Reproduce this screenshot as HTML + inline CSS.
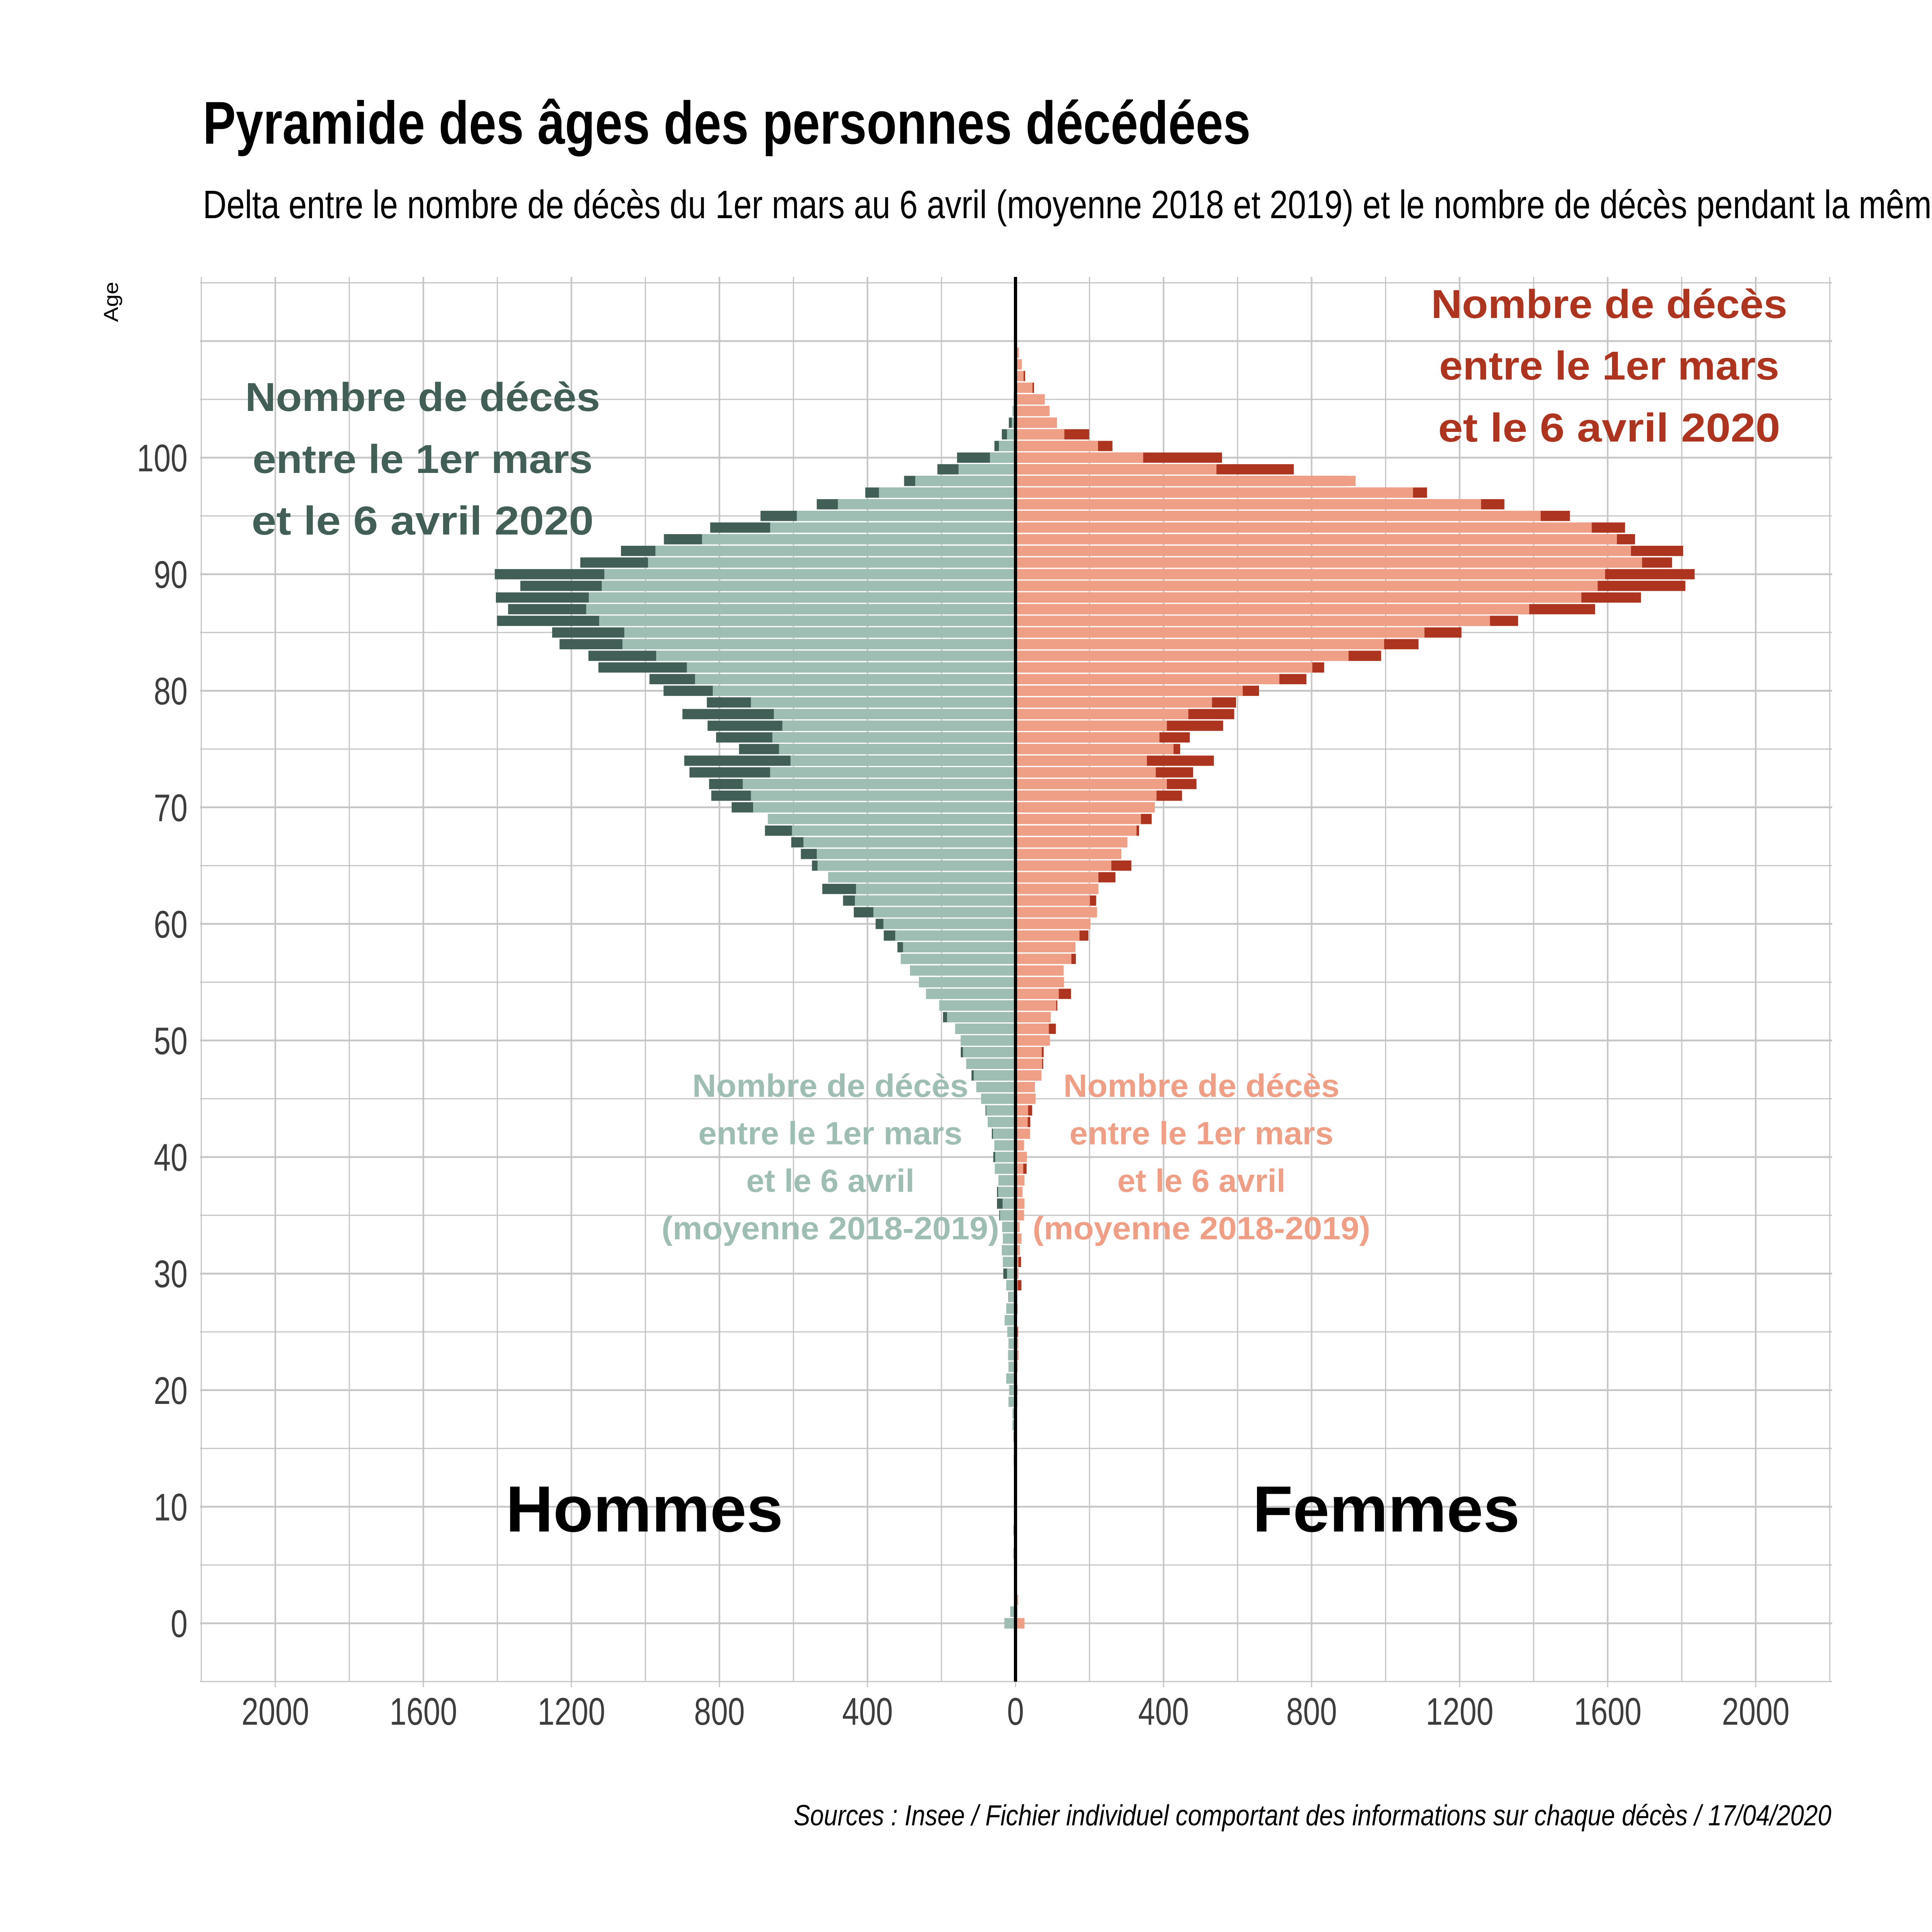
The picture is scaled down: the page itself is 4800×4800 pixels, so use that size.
<!DOCTYPE html>
<html><head><meta charset="utf-8">
<style>
html,body{margin:0;padding:0;background:#fff;}
svg{display:block;}
.cond{font-family:"Liberation Sans Narrow","Liberation Sans",sans-serif;}
.ann{font-family:"Liberation Sans",sans-serif;font-weight:bold;}
</style></head>
<body>
<svg id="chart" xmlns="http://www.w3.org/2000/svg" width="4800" height="4800" viewBox="0 0 4800 4800">
<rect x="0" y="0" width="4800" height="4800" fill="#ffffff"/>
<g id="grid"></g>
<g id="bars"></g>
<line x1="2523" y1="688" x2="2523" y2="4178" stroke="#000" stroke-width="8"/>
<g id="ticks"></g>
<text class="cond" x="504" y="357" font-size="150" font-weight="bold" textLength="2603" lengthAdjust="spacingAndGlyphs" fill="#000">Pyramide des âges des personnes décédées</text>
<text class="cond" x="504" y="542" font-size="98" textLength="4952" lengthAdjust="spacingAndGlyphs" fill="#000">Delta entre le nombre de décès du 1er mars au 6 avril (moyenne 2018 et 2019) et le nombre de décès pendant la même période en 2020</text>
<text class="cond" x="0" y="0" font-size="50" textLength="100" lengthAdjust="spacingAndGlyphs" fill="#000" transform="translate(293,800) rotate(-90)">Age</text>
<g class="ann" fill="#415f56" text-anchor="middle" font-size="100">
<text x="1050" y="1021" textLength="882" lengthAdjust="spacingAndGlyphs">Nombre de décès</text>
<text x="1050" y="1175" textLength="845" lengthAdjust="spacingAndGlyphs">entre le 1er mars</text>
<text x="1050" y="1328" textLength="850" lengthAdjust="spacingAndGlyphs">et le 6 avril 2020</text>
</g>
<g class="ann" fill="#ad3520" text-anchor="middle" font-size="100">
<text x="3998" y="790" textLength="885" lengthAdjust="spacingAndGlyphs">Nombre de décès</text>
<text x="3998" y="943" textLength="845" lengthAdjust="spacingAndGlyphs">entre le 1er mars</text>
<text x="3998" y="1097" textLength="850" lengthAdjust="spacingAndGlyphs">et le 6 avril 2020</text>
</g>
<g class="ann" fill="#9ebdb3" text-anchor="middle" font-size="80">
<text x="2063" y="2725" textLength="686" lengthAdjust="spacingAndGlyphs">Nombre de décès</text>
<text x="2063" y="2843" textLength="656" lengthAdjust="spacingAndGlyphs">entre le 1er mars</text>
<text x="2063" y="2961" textLength="418" lengthAdjust="spacingAndGlyphs">et le 6 avril</text>
<text x="2063" y="3079" textLength="839" lengthAdjust="spacingAndGlyphs">(moyenne 2018-2019)</text>
</g>
<g class="ann" fill="#f09f87" text-anchor="middle" font-size="80">
<text x="2985" y="2725" textLength="686" lengthAdjust="spacingAndGlyphs">Nombre de décès</text>
<text x="2985" y="2843" textLength="656" lengthAdjust="spacingAndGlyphs">entre le 1er mars</text>
<text x="2985" y="2961" textLength="418" lengthAdjust="spacingAndGlyphs">et le 6 avril</text>
<text x="2985" y="3079" textLength="839" lengthAdjust="spacingAndGlyphs">(moyenne 2018-2019)</text>
</g>
<text class="ann" x="1601" y="3805" font-size="162" text-anchor="middle" textLength="689" lengthAdjust="spacingAndGlyphs" fill="#000">Hommes</text>
<text class="ann" x="3444" y="3805" font-size="162" text-anchor="middle" textLength="664" lengthAdjust="spacingAndGlyphs" fill="#000">Femmes</text>
<text class="cond" x="4550" y="4535" font-size="72" font-style="italic" text-anchor="end" textLength="2578" lengthAdjust="spacingAndGlyphs" fill="#000">Sources : Insee / Fichier individuel comportant des informations sur chaque décès / 17/04/2020</text>
</svg>
<script>
// Ages 0..109
const menAvg = [30,14,1,1,1,3,2,1,2,1,1,2,2,2,5,3,3,8,8,19,17,25,19,20,19,22,29,25,18,25,23,34,37,34,36,42,35,47,46,56,55,57,61,75,79,93,106,113,133,142,148,163,185,206,242,261,285,310,304,325,357,384,434,431,506,535,537,573,604,669,709,715,737,663,608,639,657,630,653,715,818,866,888,971,1062,1057,1125,1160,1153,1118,1111,993,973,847,663,591,480,369,271,154,69,45,23,10,8,5,1,1,0,0];
const men2020 = [30,14,1,1,1,3,5,1,5,1,1,2,2,2,5,3,5,8,8,19,17,25,19,20,19,22,29,25,19,25,33,34,37,34,36,44,50,50,46,56,60,57,64,75,81,93,106,119,133,148,148,163,196,206,242,261,285,310,319,356,378,437,466,522,506,550,580,606,677,669,767,822,828,881,895,747,809,832,900,834,951,989,1127,1154,1232,1252,1401,1371,1404,1338,1407,1176,1066,950,825,689,537,406,301,211,158,57,37,18,8,5,3,2,1,0];
const womenAvg = [24,5,7,0,0,0,0,0,1,0,0,0,1,1,1,1,2,3,3,5,4,4,6,8,7,5,3,6,5,6,8,8,12,16,11,23,24,19,24,21,31,23,39,33,34,54,52,70,72,71,93,90,95,110,117,131,130,151,162,173,202,220,201,224,224,259,286,302,327,339,376,381,409,379,355,427,389,409,467,531,614,713,802,900,996,1105,1282,1388,1529,1573,1593,1693,1663,1625,1557,1419,1258,1074,919,543,345,223,132,112,92,79,46,22,17,9];
const women2020 = [24,5,7,0,0,0,0,0,1,0,0,0,1,1,1,1,2,3,3,5,5,4,6,8,7,7,3,6,5,16,8,15,12,16,11,23,24,19,24,30,31,23,39,40,45,54,52,70,75,76,93,109,95,113,150,131,130,163,162,197,202,220,218,224,270,313,286,302,334,368,376,450,489,480,536,445,471,561,591,596,658,786,834,988,1089,1205,1358,1566,1690,1810,1835,1774,1804,1674,1647,1498,1321,1112,900,752,558,262,199,112,92,79,50,26,17,9];
const xTickValues = [2000,1600,1200,800,400,0,400,800,1200,1600,2000];
const xTickSigns = [-1,-1,-1,-1,-1,0,1,1,1,1,1];
const yTickLabels = [0,10,20,30,40,50,60,70,80,90,100];

const NS = "http://www.w3.org/2000/svg";
const X0 = 2523, XS = 0.9195, Y0 = 4033, YS = 28.96;
const PL = 497, PR = 4552, PT = 688, PB = 4178;
function xPos(v){ return X0 + v*XS; }
function yPos(a){ return Y0 - a*YS; }
function mk(tag, attrs){ const e = document.createElementNS(NS, tag); for (const k in attrs) e.setAttribute(k, attrs[k]); return e; }

const grid = document.getElementById('grid');
for (let v = -2200; v <= 2200; v += 200) {
  const gl = mk('line', {x1: xPos(v), x2: xPos(v), y1: PT, y2: PB, stroke: '#c6c6c6', 'stroke-width': (v % 400 === 0) ? 4 : 3});
  
  
  grid.appendChild(gl);
}
for (let a = -5; a <= 115; a += 5) {
  const gl = mk('line', {x1: PL, x2: PR, y1: yPos(a), y2: yPos(a), stroke: '#c6c6c6', 'stroke-width': (a % 10 === 0) ? 4.5 : 3});
  
  
  grid.appendChild(gl);
}

const bars = document.getElementById('bars');
const BH = 25.5;
function bar(v0, v1, age, color, name){
  const xa = Math.min(xPos(v0), xPos(v1)), xb = Math.max(xPos(v0), xPos(v1));
  const r = mk('rect', {x: xa, y: yPos(age) - BH/2, width: Math.max(0, xb - xa), height: BH, fill: color});
  
  
  bars.appendChild(r);
}
for (let i = 0; i < menAvg.length; i++) {
  bar(0, -men2020[i], i, '#415f56', 'bar-men-2020');
  bar(0, -menAvg[i], i, '#9ebdb3', 'bar-men-average');
  bar(0, women2020[i], i, '#ad3520', 'bar-women-2020');
  bar(0, womenAvg[i], i, '#f09f87', 'bar-women-average');
}

const ticks = document.getElementById('ticks');
for (let i = 0; i < xTickValues.length; i++) {
  const v = xTickValues[i] * xTickSigns[i];
  const tm = mk('line', {x1: xPos(v), x2: xPos(v), y1: PB, y2: PB + 14, stroke: '#c6c6c6', 'stroke-width': 3});
  
  
  ticks.appendChild(tm);
  const s = String(xTickValues[i]);
  const t = mk('text', {x: xPos(v), y: 4285, 'font-size': 96, 'text-anchor': 'middle', fill: '#3d3d3d', 'class': 'cond', textLength: 42*s.length, lengthAdjust: 'spacingAndGlyphs'});
  t.textContent = s;
  
  
  ticks.appendChild(t);
}
for (let i = 0; i < yTickLabels.length; i++) {
  const s = String(yTickLabels[i]);
  const t = mk('text', {x: 466, y: yPos(yTickLabels[i]) + 34, 'font-size': 96, 'text-anchor': 'end', fill: '#3d3d3d', 'class': 'cond', textLength: 42*s.length, lengthAdjust: 'spacingAndGlyphs'});
  t.textContent = s;
  
  
  ticks.appendChild(t);
}
</script>
</body></html>
